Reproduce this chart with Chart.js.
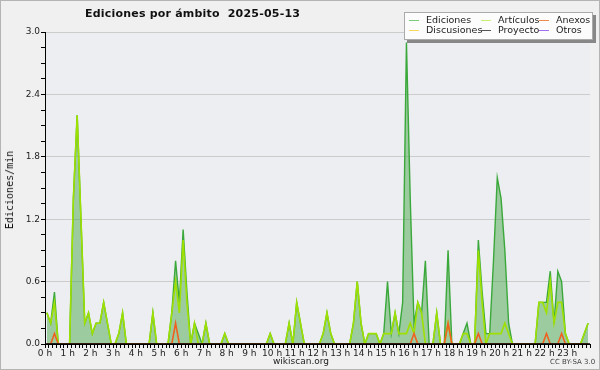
<!DOCTYPE html>
<html>
<head>
<meta charset="utf-8">
<script src="https://cdn.jsdelivr.net/npm/chart.js@4.4.1/dist/chart.umd.min.js"></script>
<style>
  html, body { margin: 0; padding: 0; background: #f0f0f0; }
  #wrap { position: relative; width: 600px; height: 370px; box-sizing: border-box; border: 1px solid #b4b4b4; background: #f0f0f0; overflow: hidden; font-family: "DejaVu Sans", sans-serif; }
  #c { position: absolute; left: -1px; top: -1px; }
  .txt { position: absolute; white-space: pre; color: #111; }
  #title { left: 84px; top: 6px; font-weight: bold; font-size: 11px; letter-spacing: 0.2px; }
  #ylab { left: 3px; top: 189px; font-family: "DejaVu Sans Mono", monospace; font-size: 10px; transform-origin: 0 0; transform: rotate(-90deg) translate(-50%, 0); }
  #site { left: 0; width: 600px; top: 355px; text-align: center; font-size: 9px; color: #222; }
  #lic { left: 549px; top: 357px; font-size: 7px; color: #444; }
  #legend { position: absolute; left: 403px; top: 11px; width: 187px; height: 26px; background: #fcfcfc; border: 1px solid #aaa; box-shadow: 3px 3px 0 #888; }
  .li { position: absolute; font-size: 9.5px; color: #222; line-height: 10px; }
  .li i { position: absolute; left: -17px; top: 5px; width: 10px; height: 1px; }
</style>
</head>
<body>
<div id="wrap">
  <canvas id="c" width="600" height="370"></canvas>
  <div class="txt" id="title">Ediciones por ámbito  2025-05-13</div>
  <div class="txt" id="ylab">Ediciones/min</div>
  <div id="legend"></div>
  <div class="txt" id="site">wikiscan.org</div>
  <div class="txt" id="lic">CC BY-SA 3.0</div>
</div>
<script>
// edits per minute, one value per 10 minutes (6 per hour, one line per hour)
const ediciones = [
  0.3, 0.2, 0.5, 0, 0, 0,
  0, 1.4, 2.2, 1.2, 0.2, 0.3,
  0.1, 0.2, 0.2, 0.4, 0.2, 0,
  0, 0.1, 0.3, 0, 0, 0,
  0, 0, 0, 0, 0.3, 0,
  0, 0, 0, 0.3, 0.8, 0.4,
  1.1, 0.5, 0, 0.2, 0.1, 0,
  0.2, 0, 0, 0, 0, 0.1,
  0, 0, 0, 0, 0, 0,
  0, 0, 0, 0, 0, 0.1,
  0, 0, 0, 0, 0.2, 0,
  0.4, 0.2, 0, 0, 0, 0,
  0, 0.1, 0.3, 0.1, 0, 0,
  0, 0, 0, 0.2, 0.6, 0.2,
  0, 0.1, 0.1, 0.1, 0, 0.1,
  0.6, 0.1, 0.3, 0.1, 0.4, 2.9,
  1.4, 0.2, 0.4, 0.3, 0.8, 0,
  0, 0.3, 0, 0, 0.9, 0,
  0, 0, 0.1, 0.2, 0, 0,
  1.0, 0.5, 0.1, 0.1, 0.8, 1.6,
  1.4, 0.9, 0.2, 0, 0, 0,
  0, 0, 0, 0, 0.4, 0.4,
  0.4, 0.7, 0.2, 0.7, 0.6, 0.1,
  0, 0, 0, 0, 0.1, 0.2
];
const articulos = [
  0.3, 0.2, 0.4, 0, 0, 0,
  0, 1.4, 2.2, 1.2, 0.2, 0.3,
  0.1, 0.2, 0.2, 0.4, 0.2, 0,
  0, 0.1, 0.3, 0, 0, 0,
  0, 0, 0, 0, 0.3, 0,
  0, 0, 0, 0.3, 0.6, 0.3,
  1.0, 0.4, 0, 0.2, 0, 0,
  0.2, 0, 0, 0, 0, 0.1,
  0, 0, 0, 0, 0, 0,
  0, 0, 0, 0, 0, 0.1,
  0, 0, 0, 0, 0.2, 0,
  0.4, 0.2, 0, 0, 0, 0,
  0, 0.1, 0.3, 0.1, 0, 0,
  0, 0, 0, 0.2, 0.6, 0.2,
  0, 0.1, 0.1, 0.1, 0, 0.1,
  0.1, 0.1, 0.3, 0.1, 0.1, 0.1,
  0.2, 0.1, 0.4, 0.3, 0, 0,
  0, 0.3, 0, 0, 0.2, 0,
  0, 0, 0.1, 0.1, 0, 0,
  0.9, 0.4, 0, 0.1, 0.1, 0.1,
  0.1, 0.2, 0.1, 0, 0, 0,
  0, 0, 0, 0, 0.4, 0.4,
  0.3, 0.6, 0.2, 0.4, 0.4, 0.1,
  0, 0, 0, 0, 0.1, 0.2
];
const anexos = [
  0, 0, 0.1, 0, 0, 0,
  0, 0, 0, 0, 0, 0,
  0, 0, 0, 0, 0, 0,
  0, 0, 0, 0, 0, 0,
  0, 0, 0, 0, 0, 0,
  0, 0, 0, 0, 0.2, 0,
  0, 0, 0, 0, 0, 0,
  0, 0, 0, 0, 0, 0,
  0, 0, 0, 0, 0, 0,
  0, 0, 0, 0, 0, 0,
  0, 0, 0, 0, 0, 0,
  0, 0, 0, 0, 0, 0,
  0, 0, 0, 0, 0, 0,
  0, 0, 0, 0, 0, 0,
  0, 0, 0, 0, 0, 0,
  0, 0, 0, 0, 0, 0,
  0, 0.1, 0, 0, 0, 0,
  0, 0, 0, 0, 0.2, 0,
  0, 0, 0, 0, 0, 0,
  0.1, 0, 0, 0, 0, 0,
  0, 0, 0, 0, 0, 0,
  0, 0, 0, 0, 0, 0,
  0.1, 0, 0, 0, 0.1, 0,
  0, 0, 0, 0, 0, 0
];
// no activity in these namespaces all day
const discusiones = [
  0, 0, 0, 0, 0, 0,  0, 0, 0, 0, 0, 0,  0, 0, 0, 0, 0, 0,  0, 0, 0, 0, 0, 0,
  0, 0, 0, 0, 0, 0,  0, 0, 0, 0, 0, 0,  0, 0, 0, 0, 0, 0,  0, 0, 0, 0, 0, 0,
  0, 0, 0, 0, 0, 0,  0, 0, 0, 0, 0, 0,  0, 0, 0, 0, 0, 0,  0, 0, 0, 0, 0, 0,
  0, 0, 0, 0, 0, 0,  0, 0, 0, 0, 0, 0,  0, 0, 0, 0, 0, 0,  0, 0, 0, 0, 0, 0,
  0, 0, 0, 0, 0, 0,  0, 0, 0, 0, 0, 0,  0, 0, 0, 0, 0, 0,  0, 0, 0, 0, 0, 0,
  0, 0, 0, 0, 0, 0,  0, 0, 0, 0, 0, 0,  0, 0, 0, 0, 0, 0,  0, 0, 0, 0, 0, 0
];
const proyecto = [
  0, 0, 0, 0, 0, 0,  0, 0, 0, 0, 0, 0,  0, 0, 0, 0, 0, 0,  0, 0, 0, 0, 0, 0,
  0, 0, 0, 0, 0, 0,  0, 0, 0, 0, 0, 0,  0, 0, 0, 0, 0, 0,  0, 0, 0, 0, 0, 0,
  0, 0, 0, 0, 0, 0,  0, 0, 0, 0, 0, 0,  0, 0, 0, 0, 0, 0,  0, 0, 0, 0, 0, 0,
  0, 0, 0, 0, 0, 0,  0, 0, 0, 0, 0, 0,  0, 0, 0, 0, 0, 0,  0, 0, 0, 0, 0, 0,
  0, 0, 0, 0, 0, 0,  0, 0, 0, 0, 0, 0,  0, 0, 0, 0, 0, 0,  0, 0, 0, 0, 0, 0,
  0, 0, 0, 0, 0, 0,  0, 0, 0, 0, 0, 0,  0, 0, 0, 0, 0, 0,  0, 0, 0, 0, 0, 0
];
const otros = [
  0, 0, 0, 0, 0, 0,  0, 0, 0, 0, 0, 0,  0, 0, 0, 0, 0, 0,  0, 0, 0, 0, 0, 0,
  0, 0, 0, 0, 0, 0,  0, 0, 0, 0, 0, 0,  0, 0, 0, 0, 0, 0,  0, 0, 0, 0, 0, 0,
  0, 0, 0, 0, 0, 0,  0, 0, 0, 0, 0, 0,  0, 0, 0, 0, 0, 0,  0, 0, 0, 0, 0, 0,
  0, 0, 0, 0, 0, 0,  0, 0, 0, 0, 0, 0,  0, 0, 0, 0, 0, 0,  0, 0, 0, 0, 0, 0,
  0, 0, 0, 0, 0, 0,  0, 0, 0, 0, 0, 0,  0, 0, 0, 0, 0, 0,  0, 0, 0, 0, 0, 0,
  0, 0, 0, 0, 0, 0,  0, 0, 0, 0, 0, 0,  0, 0, 0, 0, 0, 0,  0, 0, 0, 0, 0, 0
];
const seriesNames = ['Ediciones', 'Artículos', 'Anexos', 'Discusiones', 'Proyecto', 'Otros'];
const yTicks = [0.0, 0.6, 1.2, 1.8, 2.4, 3.0];
const hourLabels = ['0 h', '1 h', '2 h', '3 h', '4 h', '5 h', '6 h', '7 h', '8 h', '9 h', '10 h', '11 h',
  '12 h', '13 h', '14 h', '15 h', '16 h', '17 h', '18 h', '19 h', '20 h', '21 h', '22 h', '23 h'];

const lineColors = ['#3aa83a', '#9ee000', '#f06020', '#f5c400', '#555555', '#9a50e0'];
const legendColors = ['#7ccc7c', '#c8f070', '#f08850', '#f8d860', '#555555', '#a070f0'];

// x = minutes since midnight, each sample sits in the middle of its 10 min bin
const toPoints = arr => arr.map((v, i) => ({ x: i * 10 + 5, y: v }));

const allSeries = [ediciones, articulos, anexos, discusiones, proyecto, otros];
const drawOrder = [3, 2, 1, 6, 5, 4];

const datasets = allSeries.map((arr, k) => ({
  label: seriesNames[k],
  data: toPoints(arr),
  borderColor: lineColors[k],
  borderWidth: k === 0 ? 1.4 : 1.6,
  backgroundColor: k === 0 ? 'rgba(60,160,60,0.45)' : 'transparent',
  fill: k === 0 ? 'origin' : false,
  pointRadius: 0,
  tension: 0,
  order: drawOrder[k]
}));

// legend (3 columns x 2 rows like the original)
const legend = document.getElementById('legend');
const legendSlots = [[0, 0], [1, 0], [2, 0], [0, 1], [1, 1], [2, 1]];
const colX = [21, 93, 151];
seriesNames.forEach((name, k) => {
  const d = document.createElement('div');
  d.className = 'li';
  d.style.left = colX[legendSlots[k][0]] + 'px';
  d.style.top = (2 + legendSlots[k][1] * 10) + 'px';
  d.innerHTML = '<i style="background:' + legendColors[k] + '"></i>' + name;
  legend.appendChild(d);
});

const plotBg = {
  id: 'plotBg',
  beforeDraw(chart) {
    const { ctx, chartArea: a } = chart;
    ctx.save();
    ctx.fillStyle = '#eceef1';
    ctx.fillRect(a.left, a.top, a.right - a.left, a.bottom - a.top);
    ctx.restore();
  },
  afterDatasetsDraw(chart) {
    // zero-valued lines should not hide the black x axis
    const { ctx, chartArea: a } = chart;
    ctx.save();
    ctx.strokeStyle = '#000';
    ctx.lineWidth = 1.5;
    ctx.beginPath();
    ctx.moveTo(a.left, a.bottom);
    ctx.lineTo(a.right, a.bottom);
    ctx.stroke();
    ctx.restore();
  }
};

const tickFont = { family: 'DejaVu Sans', size: 9 };

new Chart(document.getElementById('c').getContext('2d'), {
  type: 'line',
  data: { datasets },
  plugins: [plotBg],
  options: {
    responsive: false,
    animation: false,
    layout: { padding: { top: 32, right: 10, left: 1, bottom: 0 } },
    plugins: { legend: { display: false }, tooltip: { enabled: false } },
    scales: {
      x: {
        type: 'linear',
        min: 0,
        max: 1440,
        afterFit: s => { s.height = 26; },
        ticks: {
          stepSize: 10,
          autoSkip: false,
          maxRotation: 0,
          padding: 0,
          color: '#222',
          font: tickFont,
          callback: v => (v % 60 === 0 && v < 1440) ? hourLabels[v / 60] : ''
        },
        grid: { drawOnChartArea: false, tickLength: 4, tickColor: '#000' },
        border: { color: '#000', width: 1 }
      },
      y: {
        min: 0,
        max: 3,
        afterFit: s => { s.width = 44; },
        ticks: {
          stepSize: 0.15,
          padding: 1,
          color: '#222',
          font: tickFont,
          callback: v => {
            const t = yTicks.find(y => Math.abs(y - v) < 1e-6);
            return t === undefined ? '' : t.toFixed(1);
          }
        },
        grid: {
          tickLength: 4,
          tickColor: '#000',
          color: c => yTicks.some(y => Math.abs(y - c.tick.value) < 1e-6) && c.tick.value > 0 ? '#cccccc' : 'transparent'
        },
        border: { color: '#000', width: 1 }
      }
    }
  }
});
</script>
</body>
</html>
